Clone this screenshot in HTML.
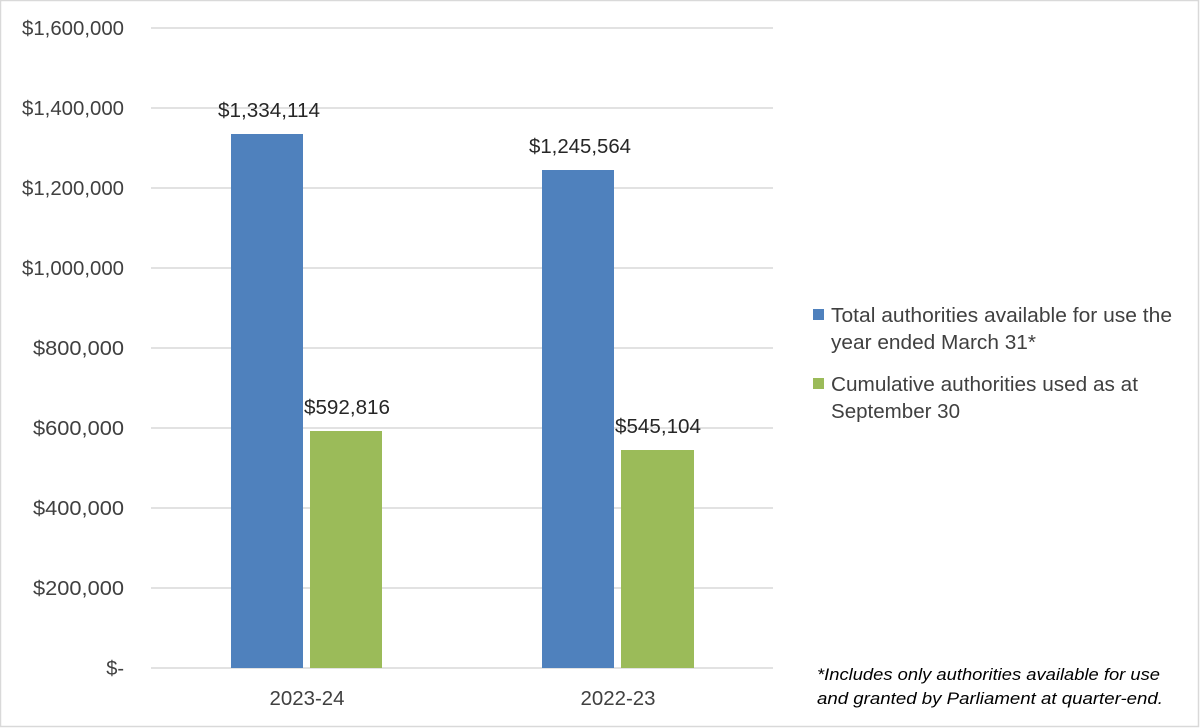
<!DOCTYPE html>
<html><head><meta charset="utf-8"><style>
html,body{margin:0;padding:0;background:#fff;}
svg{display:block;font-family:"Liberation Sans",sans-serif;}
</style></head><body>
<svg width="1200" height="728" viewBox="0 0 1200 728">
<rect x="0.5" y="0.5" width="1198" height="726" fill="#fff" stroke="#d9d9d9" stroke-width="1.5"/>
<g stroke="#d9d9d9" stroke-width="1.5">
<line x1="151" x2="773" y1="28" y2="28"/>
<line x1="151" x2="773" y1="108" y2="108"/>
<line x1="151" x2="773" y1="188" y2="188"/>
<line x1="151" x2="773" y1="268" y2="268"/>
<line x1="151" x2="773" y1="348" y2="348"/>
<line x1="151" x2="773" y1="428" y2="428"/>
<line x1="151" x2="773" y1="508" y2="508"/>
<line x1="151" x2="773" y1="588" y2="588"/>
<line x1="151" x2="773" y1="668" y2="668"/>
</g>
<g fill="#404040" font-size="20" text-anchor="end" lengthAdjust="spacingAndGlyphs">
<text x="124" y="35" textLength="102" lengthAdjust="spacingAndGlyphs">$1,600,000</text>
<text x="124" y="115" textLength="102" lengthAdjust="spacingAndGlyphs">$1,400,000</text>
<text x="124" y="195" textLength="102" lengthAdjust="spacingAndGlyphs">$1,200,000</text>
<text x="124" y="275" textLength="102" lengthAdjust="spacingAndGlyphs">$1,000,000</text>
<text x="124" y="355" textLength="91" lengthAdjust="spacingAndGlyphs">$800,000</text>
<text x="124" y="435" textLength="91" lengthAdjust="spacingAndGlyphs">$600,000</text>
<text x="124" y="515" textLength="91" lengthAdjust="spacingAndGlyphs">$400,000</text>
<text x="124" y="595" textLength="91" lengthAdjust="spacingAndGlyphs">$200,000</text>
<text x="124" y="675">$-</text>
</g>
<rect x="231" y="134" width="72" height="534" fill="#4f81bd"/>
<rect x="310" y="431" width="72" height="237" fill="#9bbb59"/>
<rect x="542" y="170" width="72" height="498" fill="#4f81bd"/>
<rect x="621" y="450" width="73" height="218" fill="#9bbb59"/>
<g fill="#262626" font-size="20" text-anchor="middle">
<text x="269" y="117" textLength="102" lengthAdjust="spacingAndGlyphs">$1,334,114</text>
<text x="347" y="414" textLength="86" lengthAdjust="spacingAndGlyphs">$592,816</text>
<text x="580" y="153" textLength="102" lengthAdjust="spacingAndGlyphs">$1,245,564</text>
<text x="658" y="433" textLength="86" lengthAdjust="spacingAndGlyphs">$545,104</text>
</g>
<g fill="#404040" font-size="20" text-anchor="middle">
<text x="307" y="705" textLength="75" lengthAdjust="spacingAndGlyphs">2023-24</text>
<text x="618" y="705" textLength="75" lengthAdjust="spacingAndGlyphs">2022-23</text>
</g>
<rect x="813" y="309" width="11" height="11" fill="#4f81bd"/>
<rect x="813" y="378" width="11" height="11" fill="#9bbb59"/>
<g fill="#404040" font-size="20">
<text x="831" y="322" textLength="341" lengthAdjust="spacingAndGlyphs">Total authorities available for use the</text>
<text x="831" y="349" textLength="205" lengthAdjust="spacingAndGlyphs">year ended March 31*</text>
<text x="831" y="391" textLength="307" lengthAdjust="spacingAndGlyphs">Cumulative authorities used as at</text>
<text x="831" y="418" textLength="129" lengthAdjust="spacingAndGlyphs">September 30</text>
</g>
<g fill="#000" font-size="17" font-style="italic">
<text x="817" y="680" textLength="343" lengthAdjust="spacingAndGlyphs">*Includes only authorities available for use</text>
<text x="817" y="704" textLength="346" lengthAdjust="spacingAndGlyphs">and granted by Parliament at quarter-end.</text>
</g>
</svg>
</body></html>
